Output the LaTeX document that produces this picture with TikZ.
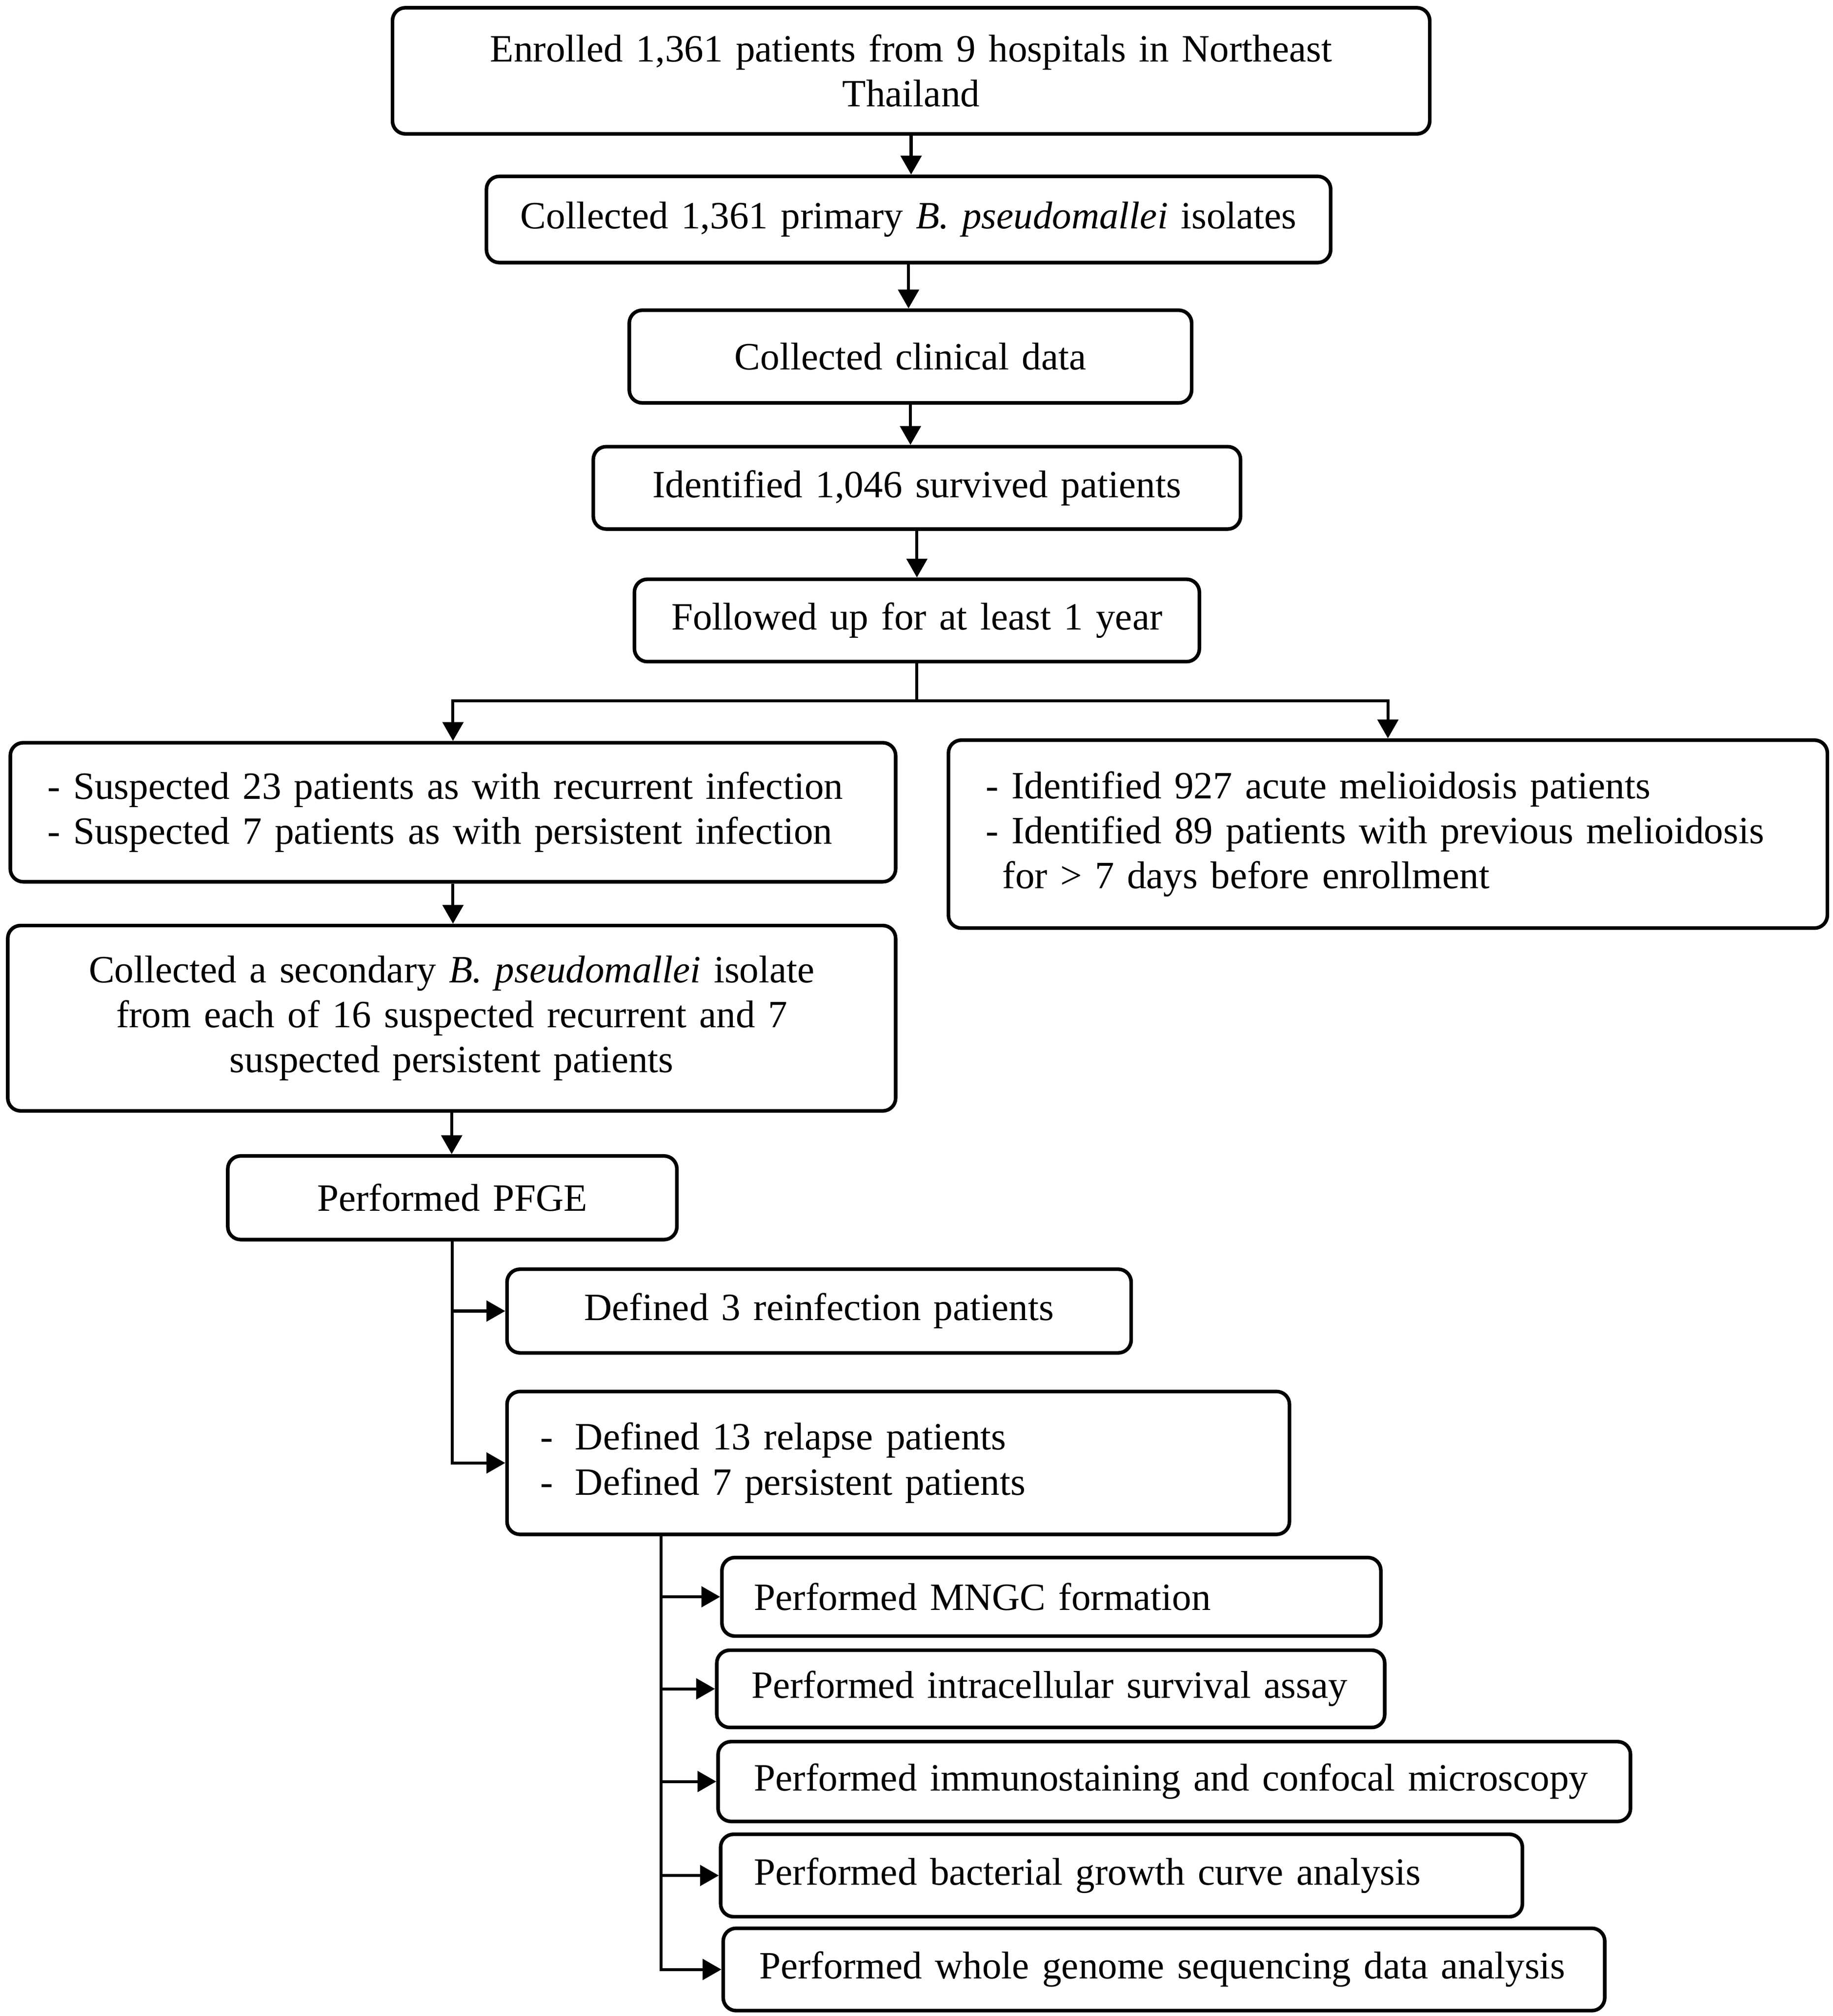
\documentclass[tikz,border=0pt]{standalone}
\usepackage{fontspec}
\setmainfont{Liberation Serif}
\usetikzlibrary{arrows.meta}
\newcommand\fsz{\fontsize{15pt}{17.5pt}\selectfont}
\begin{document}
\begin{tikzpicture}[x=0.5pt,y=-0.5pt,
  box/.style={draw, line width=1.4pt, rounded corners=5pt, inner ysep=0pt, inner xsep=0pt, font=\fsz, fill=white},
  conn/.style={line width=1.15pt, -{Triangle[length=7.3pt,width=8pt]}},
  ln/.style={line width=1.15pt}]
\fill[white] (0,0) rectangle (1424,1566.17);
\useasboundingbox (0,0) rectangle (1424,1566.17);

\node[box, text width=403pt, minimum height=49pt, align=center] (b1) at (708,55)
  {Enrolled 1,361 patients from 9 hospitals in Northeast\\Thailand};
\node[box, text width=328pt, minimum height=33.5pt, align=center] (b2) at (706,170.5)
  {Collected 1,361 primary \textit{B. pseudomallei} isolates};
\node[box, text width=218.5pt, minimum height=36pt, align=center] (b3) at (707.5,277)
  {Collected clinical data};
\node[box, text width=251.5pt, minimum height=32pt, align=center] (b4) at (712.5,379)
  {Identified 1,046 survived patients};
\node[box, text width=219.5pt, minimum height=32pt, align=center] (b5) at (712.5,482)
  {Followed up for at least 1 year};
\node[box, text width=315pt, inner xsep=14.5pt, minimum height=54pt, align=left] (b6) at (352,631)
  {\mbox{- Suspected 23 patients as with recurrent infection}\\\mbox{- Suspected 7 patients as with persistent infection}};
\node[box, text width=312.5pt, inner xsep=14.5pt, minimum height=73pt, align=left] (b7) at (1078.5,648)
  {\mbox{- Identified 927 acute melioidosis patients}\\\mbox{- Identified 89 patients with previous melioidosis}\\\mbox{\hspace*{6.5pt}for > 7 days before enrollment}};
\node[box, text width=345pt, minimum height=72pt, align=center] (b8) at (351,791)
  {Collected a secondary \textit{B. pseudomallei} isolate\\from each of 16 suspected recurrent and 7\\suspected persistent patients};
\node[box, text width=174.5pt, minimum height=32.5pt, align=center] (b9) at (351.5,930.5)
  {Performed PFGE};
\node[box, text width=242.5pt, minimum height=32.5pt, align=center] (b10) at (636.5,1018.5)
  {Defined 3 reinfection patients};
\node[box, text width=278pt, inner xsep=13pt, minimum height=55.5pt, align=left] (b11) at (698,1136.5)
  {\mbox{-\hspace{8.5pt}Defined 13 relapse patients}\\\mbox{-\hspace{8.5pt}Defined 7 persistent patients}};
\node[box, text width=231pt, inner xsep=12.5pt, minimum height=30.5pt, align=left] (b12) at (817,1240.5)
  {\mbox{Performed MNGC formation}};
\node[box, text width=232.5pt, inner xsep=13.5pt, minimum height=30pt, align=left] (b13) at (816.5,1312)
  {\mbox{Performed intracellular survival assay}};
\node[box, text width=326.5pt, inner xsep=14pt, minimum height=31pt, align=left] (b14) at (912.5,1384)
  {\mbox{Performed immunostaining and confocal microscopy}};
\node[box, text width=285.5pt, inner xsep=13pt, minimum height=32pt, align=left] (b15) at (871.5,1457)
  {\mbox{Performed bacterial growth curve analysis}};
\node[box, text width=314.5pt, inner xsep=14pt, minimum height=32pt, align=left] (b16) at (904.5,1530)
  {\mbox{Performed whole genome sequencing data analysis}};

\draw[conn] (b1.south) -- (b1.south |- b2.north);
\draw[conn] (b2.south) -- (b2.south |- b3.north);
\draw[conn] (b3.south) -- (b3.south |- b4.north);
\draw[conn] (b4.south) -- (b4.south |- b5.north);
\coordinate (j) at ([yshift=-14.5pt]b5.south);
\draw[ln] (b5.south) -- (j);
\draw[conn] (j) -| (b6.north);
\draw[conn] (j) -| (b7.north);
\draw[conn] (b6.south) -- (b6.south |- b8.north);
\draw[conn] (b8.south) -- (b8.south |- b9.north);
\draw[conn] (b9.south) |- (b11.west);
\draw[conn] (b9.south |- b10.west) -- (b10.west);
\coordinate (k) at ([xshift=60.5pt]b11.south west);
\draw[conn] (k) |- (b16.west);
\foreach \n in {12,13,14,15} \draw[conn] (k |- b\n.west) -- (b\n.west);
\end{tikzpicture}
\end{document}
